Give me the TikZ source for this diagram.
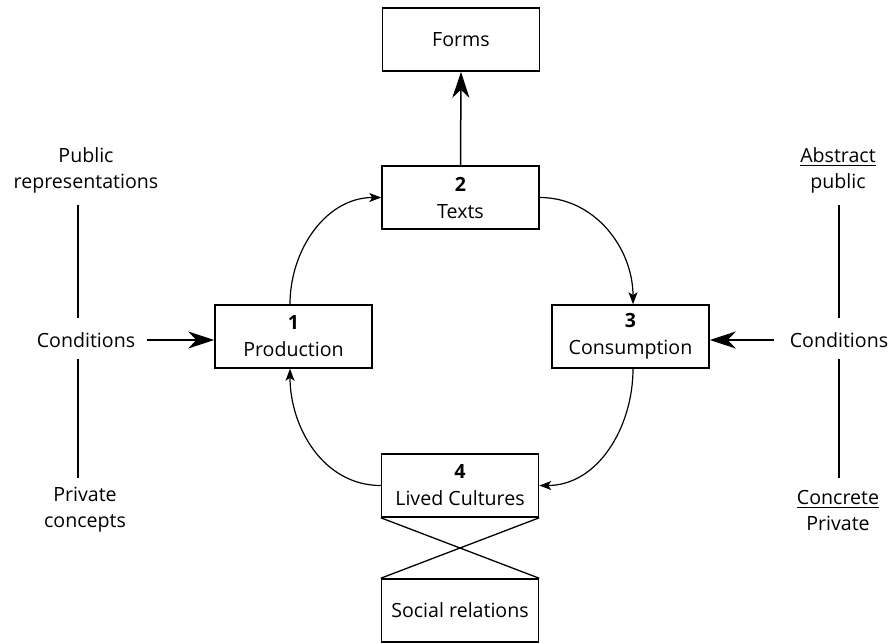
\documentclass[tikz,border=0pt]{standalone}
\usepackage{fontspec}
\setmainfont{Open Sans}
\usetikzlibrary{arrows.meta}
\begin{document}
\begin{tikzpicture}[x=0.5pt,y=-0.5pt,
  box/.style={draw, line width=0.75pt, minimum width=78.5pt, minimum height=31.5pt, inner sep=0pt, align=center, font=\fontsize{9.8}{13.5}\selectfont},
  lbl/.style={inner sep=0pt, align=center, font=\fontsize{9.8}{13}\selectfont},
  bigarr/.style={line width=0.75pt, -{Stealth[length=13pt,width=8.5pt,inset=4pt]}},
  smallarr/.style={line width=0.6pt, -{Stealth[length=6pt,width=4.5pt,inset=1.5pt]}},
  rulel/.style={line width=0.65pt}]
\useasboundingbox (0,0) rectangle (893,643);
% boxes
\node[box] (forms) at (461,39.5) {Forms};
\node[box] (texts) at (460.5,197.5) {\textbf{2}\\Texts};
\node[box] (prod) at (293.5,336.5) {\textbf{1}\\Production};
\node[box] (cons) at (630.5,336.5) {\textbf{3}\\Consumption};
\node[box] (lived) at (460,485.5) {\textbf{4}\\Lived Cultures};
\node[box] (social) at (460,610.5) {Social relations};
% side labels
\node[lbl] (lpub) at (86,170) {Public\\representations};
\node[lbl] (lcond) at (86,340) {Conditions};
\node[lbl] (lpriv) at (85,510) {Private\\concepts};
\node[lbl] (rpub) at (838,170) {\underline{Abstract}\\public};
\node[lbl] (rcond) at (839,340) {Conditions};
\node[lbl] (rpriv) at (838,510) {\underline{Concrete}\\Private};
% vertical rules
\coordinate (la) at (78,205); \coordinate (lb) at (78,318);
\coordinate (lc) at (78,359); \coordinate (ld) at (78,478);
\coordinate (ra) at (839,205); \coordinate (rb) at (839,318);
\coordinate (rc) at (839,359); \coordinate (rd) at (839,478);
\draw[rulel] (la) -- (lb);
\draw[rulel] (lc) -- (ld);
\draw[rulel] (ra) -- (rb);
\draw[rulel] (rc) -- (rd);
% arrows
\draw[bigarr] (texts.north) -- (forms.south);
\draw[bigarr, shorten <=5.5pt] (lcond.east) -- (lcond.east -| prod.west);
\draw[bigarr, shorten <=7.5pt] (rcond.west) -- (rcond.west -| cons.east);
% cycle
\draw[smallarr] ([xshift=-1.75pt]prod.north) to[out=90,in=180] (texts.west);
\draw[smallarr] (texts.east) to[out=0,in=90] ([xshift=1.25pt]cons.north);
\draw[smallarr] ([xshift=1.25pt]cons.south) to[out=-90,in=0] (lived.east);
\draw[smallarr] (lived.west) to[out=180,in=-90] ([xshift=-1.75pt]prod.south);
% cross
\draw[rulel] (lived.south west) -- (social.north east);
\draw[rulel] (lived.south east) -- (social.north west);
\end{tikzpicture}
\end{document}
